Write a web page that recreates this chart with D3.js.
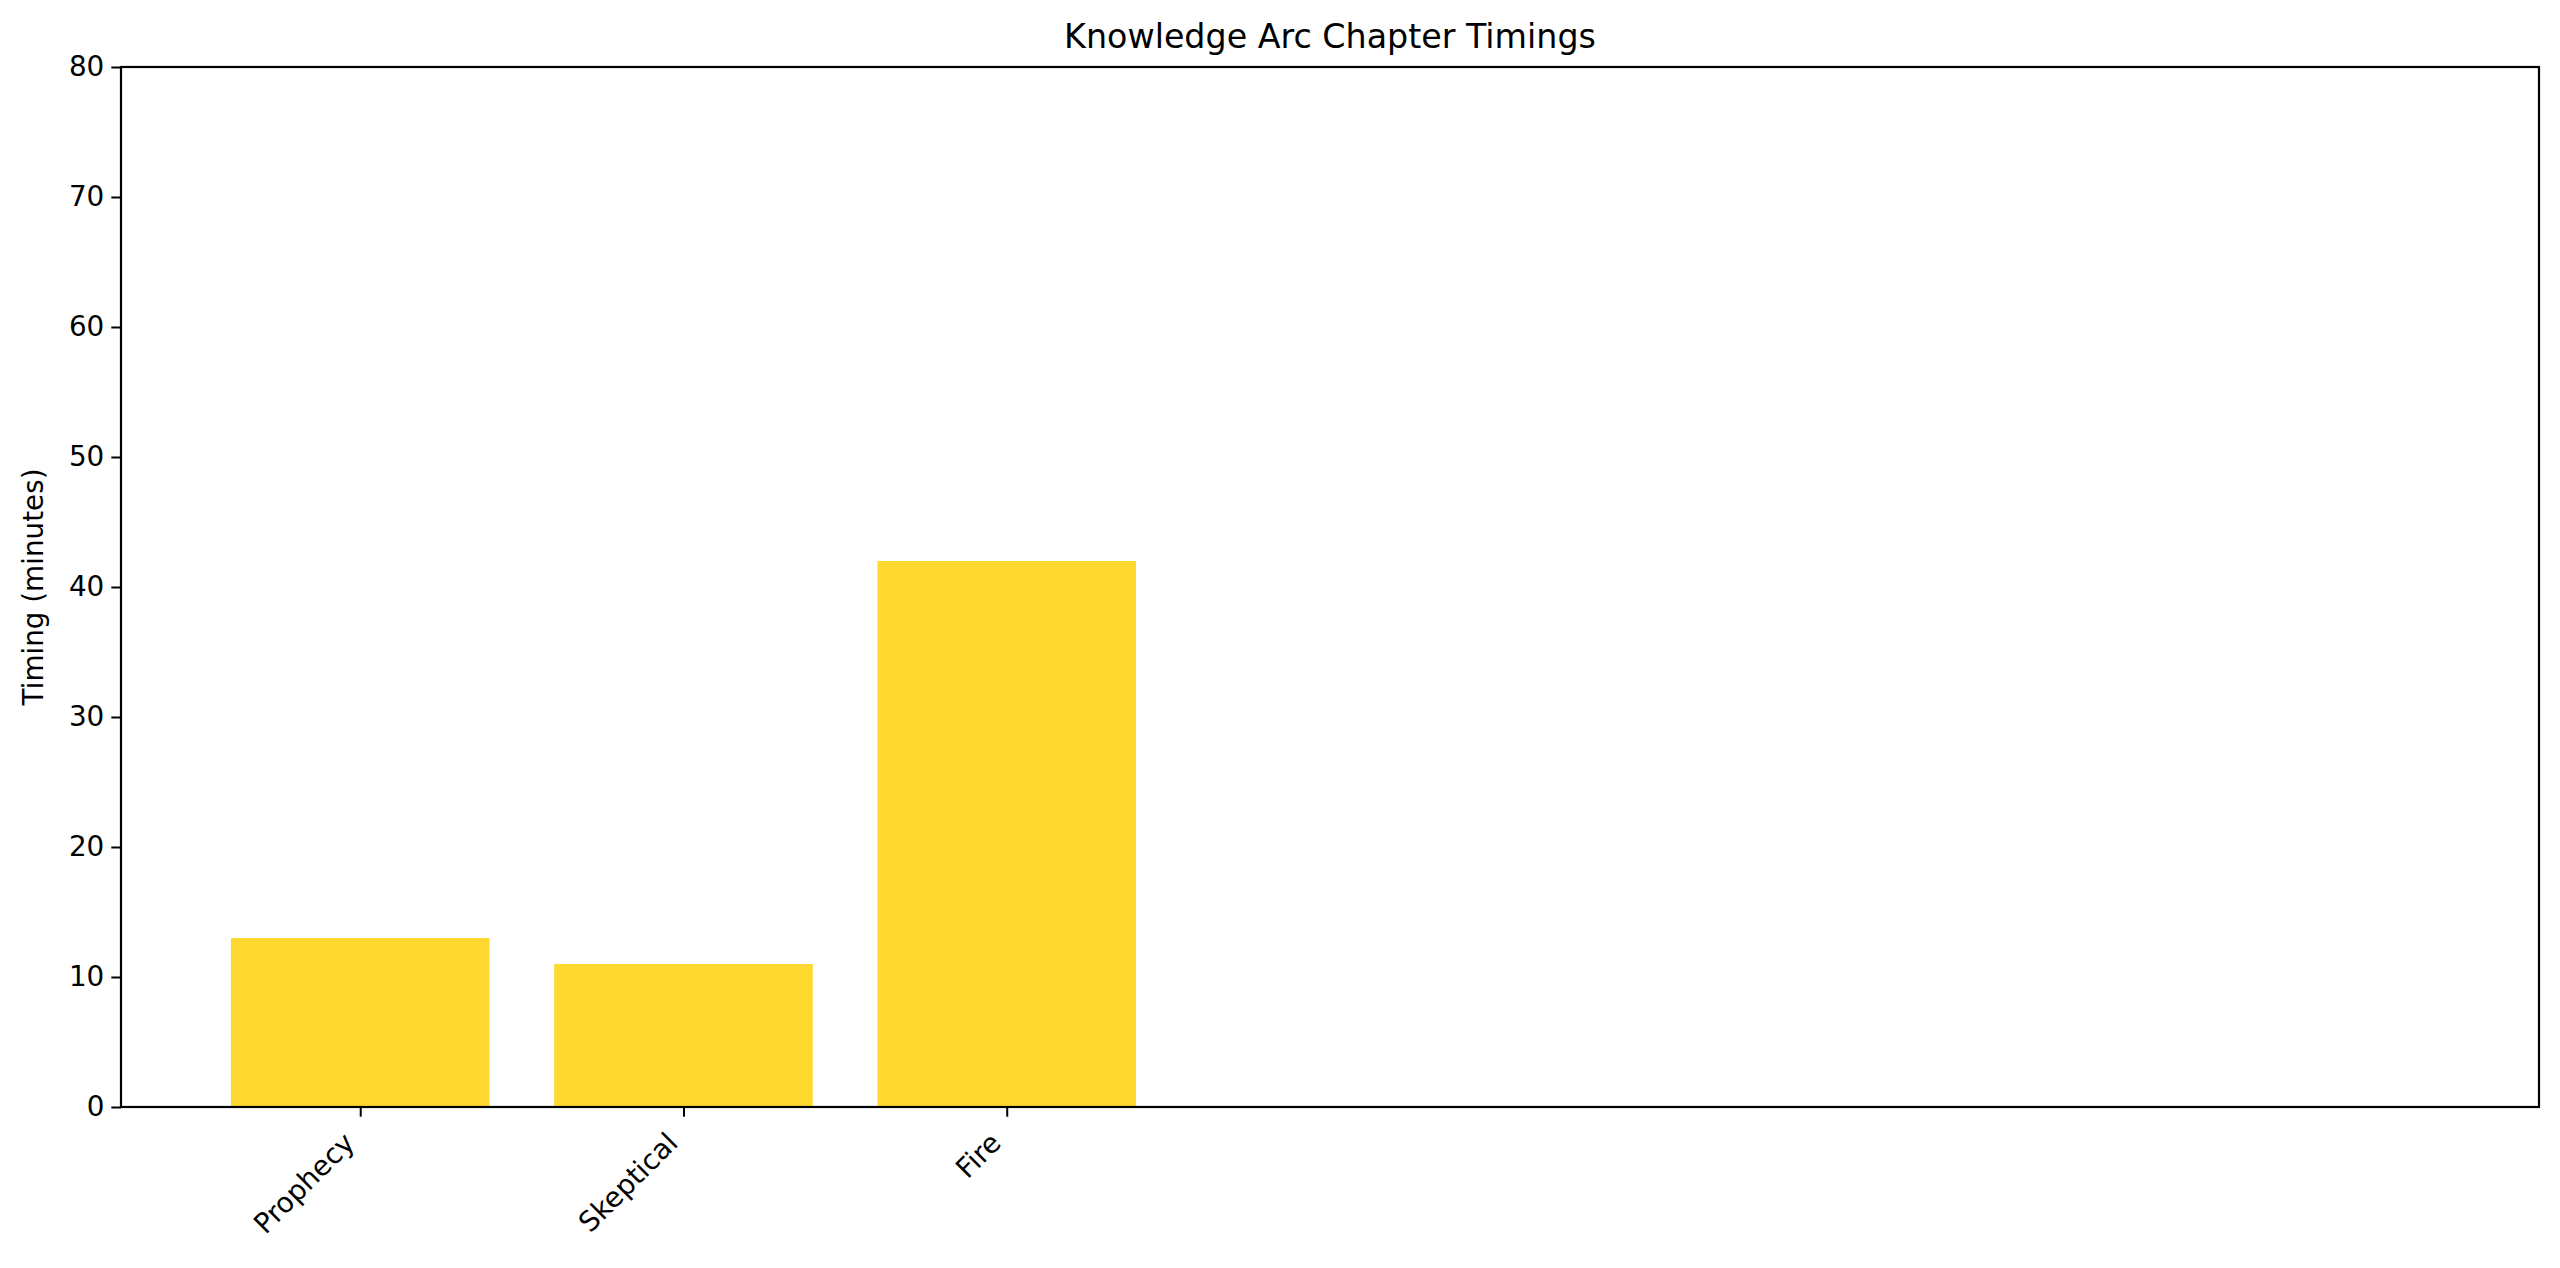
<!DOCTYPE html>
<html>
<head>
<meta charset="utf-8">
<script src="https://d3js.org/d3.v7.min.js"></script>
<style>
  body { margin: 0; background: #fff; }
  text { font-family: "DejaVu Sans", sans-serif; fill: #000; }
</style>
</head>
<body>
<div id="chart"></div>
<script>
// chapters shown on the axis, and their timings in minutes
let chapters = ["Prophecy", "Skeptical", "Fire"]
let timings = [13, 11, 42]
let yTicks = [0, 10, 20, 30, 40, 50, 60, 70, 80]
// the axis was laid out for seven slots, only three are labelled
let slotCount = 7

function renderChart(){
  let width = 2560,
      height = 1268
  let margin = {top: 67, right: 21, bottom: 161, left: 121}

  let svg = d3.select("#chart")
    .append("svg")
    .attr("width", width)
    .attr("height", height)

  let plotW = width - margin.left - margin.right,
      plotH = height - margin.top - margin.bottom

  let g = svg.append("g")
    .attr("transform", `translate(${margin.left},${margin.top})`)

  // matplotlib-ish: bars of width 0.8 and a 5% margin on each side
  let lo = -0.4, hi = slotCount - 1 + 0.4, pad = (hi - lo) * 0.05
  let x = d3.scaleLinear()
    .domain([lo - pad, hi + pad])
    .range([0, plotW])

  let y = d3.scaleLinear()
    .domain([0, 80])
    .range([plotH, 0])

  let data = chapters.map(function(c, i){
    return {name: c, value: timings[i], pos: i}
  })

  g.selectAll("rect.bar")
    .data(data)
    .enter()
    .append("rect")
      .attr("class", "bar")
      .attr("x", d => x(d.pos - 0.4))
      .attr("width", d => x(d.pos + 0.4) - x(d.pos - 0.4))
      .attr("y", d => y(d.value))
      .attr("height", d => y(0) - y(d.value))
      .style("fill", "#ffd92f")

  let yAxis = g.append("g")
    .call(d3.axisLeft(y).tickValues(yTicks).tickSize(9.7).tickPadding(7))
  yAxis.selectAll("text").style("font-size", "27.8px")
  yAxis.select(".domain").remove()
  yAxis.selectAll(".tick line").attr("stroke-width", 2)

  let xAxis = g.append("g")
    .attr("transform", `translate(0,${plotH})`)
    .call(d3.axisBottom(x)
      .tickValues(data.map(d => d.pos))
      .tickFormat((d, i) => chapters[i])
      .tickSize(9.7))
  xAxis.select(".domain").remove()
  xAxis.selectAll(".tick line").attr("stroke-width", 2)
  // rotated labels: top-right corner of the box sits just under the tick
  xAxis.selectAll(".tick text")
    .style("font-size", "27.8px")
    .attr("text-anchor", "end")
    .attr("dy", null)
    .attr("y", 0)
    .attr("transform", "translate(-4.6,37.6) rotate(-45)")

  // frame around the plot
  g.append("rect")
    .attr("width", plotW)
    .attr("height", plotH)
    .attr("fill", "none")
    .attr("stroke", "#000")
    .attr("stroke-width", 2.2)

  svg.append("text")
    .attr("x", margin.left + plotW / 2)
    .attr("y", 48)
    .attr("text-anchor", "middle")
    .style("font-size", "33.3px")
    .text("Knowledge Arc Chapter Timings")

  svg.append("text")
    .attr("transform", `translate(43,${margin.top + plotH / 2}) rotate(-90)`)
    .attr("text-anchor", "middle")
    .style("font-size", "27.8px")
    .text("Timing (minutes)")
}

renderChart()
</script>
</body>
</html>
